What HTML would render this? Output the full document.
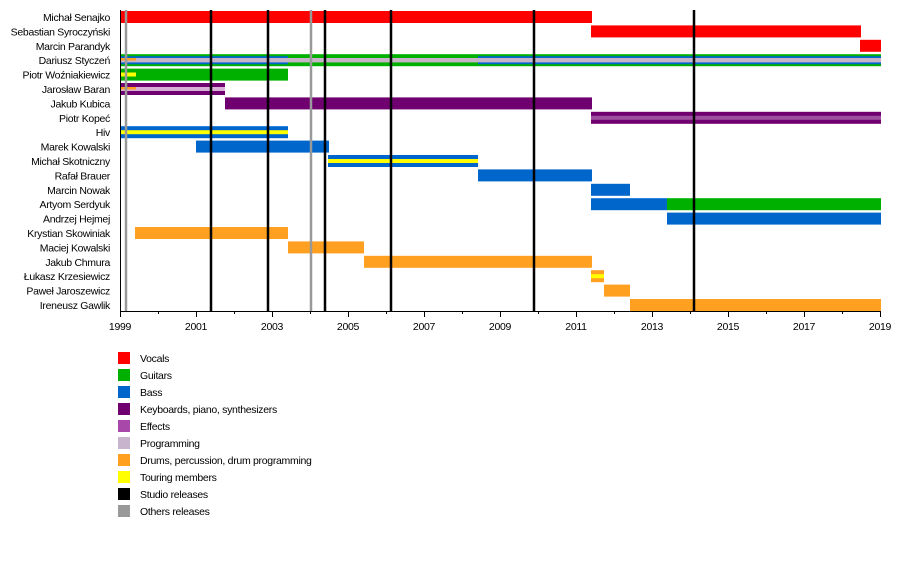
<!DOCTYPE html>
<html><head><meta charset="utf-8"><style>
html,body{margin:0;padding:0;background:#fff;}
svg{display:block;font-family:"Liberation Sans",sans-serif;}
</style></head><body>
<svg width="900" height="580" viewBox="0 0 900 580" xmlns="http://www.w3.org/2000/svg">
<g font-size="10.5" fill="#000" text-anchor="end" letter-spacing="-0.3">
<text x="110" y="21">Michał Senajko</text>
<text x="110" y="35.4">Sebastian Syroczyński</text>
<text x="110" y="49.8">Marcin Parandyk</text>
<text x="110" y="64.2">Dariusz Styczeń</text>
<text x="110" y="78.6">Piotr Woźniakiewicz</text>
<text x="110" y="93">Jarosław Baran</text>
<text x="110" y="107.4">Jakub Kubica</text>
<text x="110" y="121.8">Piotr Kopeć</text>
<text x="110" y="136.2">Hiv</text>
<text x="110" y="150.6">Marek Kowalski</text>
<text x="110" y="165">Michał Skotniczny</text>
<text x="110" y="179.4">Rafał Brauer</text>
<text x="110" y="193.8">Marcin Nowak</text>
<text x="110" y="208.2">Artyom Serdyuk</text>
<text x="110" y="222.6">Andrzej Hejmej</text>
<text x="110" y="237">Krystian Skowiniak</text>
<text x="110" y="251.4">Maciej Kowalski</text>
<text x="110" y="265.8">Jakub Chmura</text>
<text x="110" y="280.2">Łukasz Krzesiewicz</text>
<text x="110" y="294.6">Paweł Jaroszewicz</text>
<text x="110" y="309">Ireneusz Gawlik</text>
</g>
<rect x="120" y="11" width="472" height="12" fill="#ff0000"/>
<rect x="591" y="25.4" width="270" height="12" fill="#ff0000"/>
<rect x="860" y="39.8" width="21" height="12" fill="#ff0000"/>
<!-- Dariusz -->
<rect x="120" y="54.2" width="761" height="12" fill="#00b000"/>
<rect x="120" y="56.2" width="168" height="8" fill="#0066cc"/>
<rect x="478" y="56.2" width="403" height="8" fill="#0066cc"/>
<rect x="120" y="58" width="761" height="4.4" fill="#c8b4c8"/>
<rect x="120" y="58" width="16" height="2.5" fill="#ffa020"/>
<!-- Piotr W -->
<rect x="120" y="68.6" width="168" height="12" fill="#00b000"/>
<rect x="120" y="72.5" width="16" height="4" fill="#ffff00"/>
<rect x="120" y="83" width="105" height="12" fill="#700070"/>
<rect x="120" y="87" width="105" height="4" fill="#d8b0d8"/>
<rect x="120" y="87" width="16" height="2.5" fill="#ffa020"/>
<rect x="225" y="97.4" width="367" height="12" fill="#700070"/>
<rect x="591" y="111.8" width="290" height="12" fill="#700070"/>
<rect x="591" y="115.8" width="290" height="4" fill="#a050a0"/>
<rect x="120" y="126.2" width="168" height="12" fill="#0066cc"/>
<rect x="120" y="130.2" width="168" height="4" fill="#ffff00"/>
<rect x="196" y="140.6" width="133" height="12" fill="#0066cc"/>
<rect x="328" y="155" width="150" height="12" fill="#0066cc"/>
<rect x="328" y="159" width="150" height="4" fill="#ffff00"/>
<rect x="478" y="169.4" width="114" height="12" fill="#0066cc"/>
<rect x="591" y="183.8" width="39" height="12" fill="#0066cc"/>
<rect x="591" y="198.2" width="76" height="12" fill="#0066cc"/>
<rect x="667" y="198.2" width="214" height="12" fill="#00b000"/>
<rect x="667" y="212.6" width="214" height="12" fill="#0066cc"/>
<rect x="135" y="227" width="153" height="12" fill="#ffa020"/>
<rect x="288" y="241.4" width="76" height="12" fill="#ffa020"/>
<rect x="364" y="255.8" width="228" height="12" fill="#ffa020"/>
<rect x="591" y="270.2" width="13" height="12" fill="#ffa020"/>
<rect x="591" y="274.2" width="13" height="4" fill="#ffff00"/>
<rect x="604" y="284.6" width="26" height="12" fill="#ffa020"/>
<rect x="630" y="299" width="251" height="12" fill="#ffa020"/>
<g stroke-width="2.5">
<line x1="126" y1="10" x2="126" y2="312" stroke="#999"/>
<line x1="311" y1="10" x2="311" y2="312" stroke="#999"/>
<line x1="211" y1="10" x2="211" y2="312" stroke="#000"/>
<line x1="268" y1="10" x2="268" y2="312" stroke="#000"/>
<line x1="325" y1="10" x2="325" y2="312" stroke="#000"/>
<line x1="391" y1="10" x2="391" y2="312" stroke="#000"/>
<line x1="534" y1="10" x2="534" y2="312" stroke="#000"/>
<line x1="694" y1="10" x2="694" y2="312" stroke="#000"/>
</g>
<line x1="120.5" y1="10" x2="120.5" y2="312" stroke="#000" stroke-width="1"/>
<line x1="120" y1="311.5" x2="880" y2="311.5" stroke="#000" stroke-width="1"/>
<g stroke="#000" stroke-width="1">
<line x1="120.5" y1="311" x2="120.5" y2="317"/><line x1="158.5" y1="311" x2="158.5" y2="314"/>
<line x1="196.5" y1="311" x2="196.5" y2="317"/><line x1="234.5" y1="311" x2="234.5" y2="314"/>
<line x1="272.5" y1="311" x2="272.5" y2="317"/><line x1="310.5" y1="311" x2="310.5" y2="314"/>
<line x1="348.5" y1="311" x2="348.5" y2="317"/><line x1="386.5" y1="311" x2="386.5" y2="314"/>
<line x1="424.5" y1="311" x2="424.5" y2="317"/><line x1="462.5" y1="311" x2="462.5" y2="314"/>
<line x1="500.5" y1="311" x2="500.5" y2="317"/><line x1="538.5" y1="311" x2="538.5" y2="314"/>
<line x1="576.5" y1="311" x2="576.5" y2="317"/><line x1="614.5" y1="311" x2="614.5" y2="314"/>
<line x1="652.5" y1="311" x2="652.5" y2="317"/><line x1="690.5" y1="311" x2="690.5" y2="314"/>
<line x1="728.5" y1="311" x2="728.5" y2="317"/><line x1="766.5" y1="311" x2="766.5" y2="314"/>
<line x1="804.5" y1="311" x2="804.5" y2="317"/><line x1="842.5" y1="311" x2="842.5" y2="314"/>
<line x1="880.5" y1="311" x2="880.5" y2="317"/>
</g>
<g font-size="10.5" text-anchor="middle" letter-spacing="-0.3">
<text x="120" y="330">1999</text><text x="196" y="330">2001</text><text x="272" y="330">2003</text>
<text x="348" y="330">2005</text><text x="424" y="330">2007</text><text x="500" y="330">2009</text>
<text x="576" y="330">2011</text><text x="652" y="330">2013</text><text x="728" y="330">2015</text>
<text x="804" y="330">2017</text><text x="880" y="330">2019</text>
</g>
<g font-size="10.5" letter-spacing="-0.3">
<rect x="118" y="352" width="12" height="12" fill="#ff0000"/><text x="140" y="362">Vocals</text>
<rect x="118" y="369" width="12" height="12" fill="#00b000"/><text x="140" y="379">Guitars</text>
<rect x="118" y="386" width="12" height="12" fill="#0066cc"/><text x="140" y="396">Bass</text>
<rect x="118" y="403" width="12" height="12" fill="#700070"/><text x="140" y="413">Keyboards, piano, synthesizers</text>
<rect x="118" y="420" width="12" height="12" fill="#a848a8"/><text x="140" y="430">Effects</text>
<rect x="118" y="437" width="12" height="12" fill="#c8b4cc"/><text x="140" y="447">Programming</text>
<rect x="118" y="454" width="12" height="12" fill="#ffa020"/><text x="140" y="464">Drums, percussion, drum programming</text>
<rect x="118" y="471" width="12" height="12" fill="#ffff00"/><text x="140" y="481">Touring members</text>
<rect x="118" y="488" width="12" height="12" fill="#000"/><text x="140" y="498">Studio releases</text>
<rect x="118" y="505" width="12" height="12" fill="#999"/><text x="140" y="515">Others releases</text>
</g>
</svg>
</body></html>
